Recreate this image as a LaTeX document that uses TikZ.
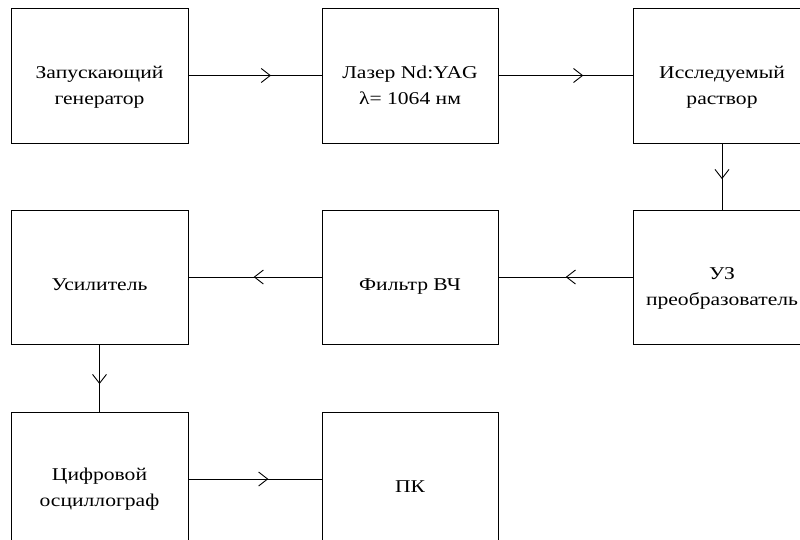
\documentclass[tikz,border=0pt]{standalone}
\usepackage{fontspec}
\setmainfont[FakeStretch=1.2]{Liberation Serif}
\usetikzlibrary{arrows.meta,decorations.markings}
\begin{document}
\begin{tikzpicture}[x=1pt,y=-1pt,
  blk/.style={draw=black,line width=0.9pt,minimum width=177pt,minimum height=135pt,inner sep=0pt},
  lbl/.style={anchor=north,align=center,inner sep=0pt,font=\fontsize{18}{26}\selectfont},
  conn/.style={draw=black,line width=0.9pt,postaction={decorate},
    decoration={markings,mark=at position #1 with {\arrow{Straight Barb[length=9pt,width=14pt,line width=0.9pt]}}}}
]
\useasboundingbox (0,0) rectangle (800,539);
\clip (0,0) rectangle (800,539);
% boxes
\node[blk] (gen) at (99.5,75.5) {};
\node[blk,minimum width=176pt] (las) at (410,75.5) {};
\node[blk] (sol) at (722,75.5) {};
\node[blk,minimum height=134pt] (amp) at (99.5,277) {};
\node[blk,minimum width=176pt,minimum height=134pt] (fil) at (410,277) {};
\node[blk,minimum height=134pt] (uz) at (722,277) {};
\node[blk,minimum height=134pt] (osc) at (99.5,479) {};
\node[blk,minimum width=176pt,minimum height=134pt] (pc) at (410,479) {};
% labels
\node[lbl] (tgen) at (99.5,65.5) {Запускающий\\генератор};
\node[lbl] (tlas) at (410,65.5) {Лазер Nd:YAG\\λ= 1064 нм};
\node[lbl] (tsol) at (722,65.5) {Исследуемый\\раствор};
\node[lbl] (tamp) at (99.5,279) {Усилитель};
\node[lbl] (tfil) at (410,279) {Фильтр ВЧ};
\node[lbl] (tuz) at (722,267) {УЗ\\преобразователь};
\node[lbl] (tosc) at (99.5,468) {Цифровой\\осциллограф};
\node[lbl] (tpc) at (410,481) {ПК};
% connectors
\draw[conn=0.62] (gen.east) -- (las.west);
\draw[conn=0.63] (las.east) -- (sol.west);
\draw[conn=0.54] (sol.south) -- (uz.north);
\draw[conn=0.50] (uz.west) -- (fil.east);
\draw[conn=0.51] (fil.west) -- (amp.east);
\draw[conn=0.59] (amp.south) -- (osc.north);
\draw[conn=0.60] (osc.east) -- (pc.west);
\end{tikzpicture}
\end{document}
